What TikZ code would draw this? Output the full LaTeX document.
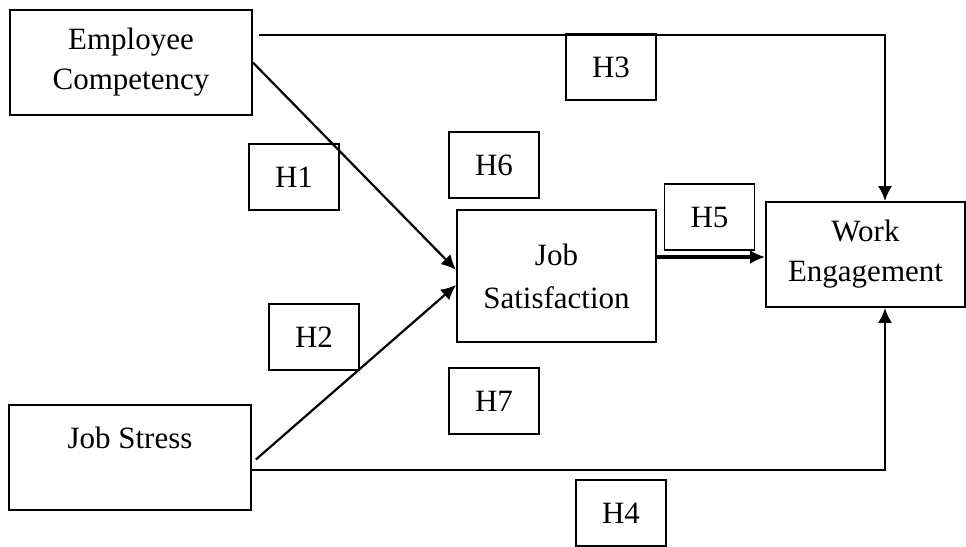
\documentclass[tikz,border=0pt]{standalone}
\usepackage{fontspec}
\setmainfont{Liberation Serif}
\usepackage{tikz}
\usetikzlibrary{calc, arrows.meta, positioning}

\begin{document}
\begin{tikzpicture}[x=0.5pt, y=-0.5pt, >={Latex[length=7.5pt, width=7pt]},
    every node/.style={font=\fontsize{15.5}{20}\selectfont, align=center, inner sep=0pt},
    varbox/.style={draw, line width=0.9pt, minimum width=121pt, minimum height=52.5pt},
    hypbox/.style={draw, line width=0.9pt, minimum width=45pt, minimum height=33pt},
    arr/.style={->, line width=1.1pt}]
    \useasboundingbox (0,0) rectangle (966,547);

    % 1. Các biến
    \node[varbox] (ec) at (131,62.5) {Employee\\Competency};
    \node[varbox] (jst) at (130,457.5) {Job Stress\\\mbox{}};
    \node[varbox, minimum width=99.5pt, minimum height=66pt] (jsat) at (556.5,276) {Job\\[1.5pt]Satisfaction};
    \node[varbox, minimum width=99.5pt] (we) at (865.5,254.5) {Work\\Engagement};

    % 2. Các giả thuyết
    \node[hypbox] (h1) at (294,177) {H1};
    \node[hypbox] (h2) at (314,337) {H2};
    \node[hypbox] (h3) at (611,67) {H3};
    \node[hypbox] (h4) at (621,513) {H4};
    \node[hypbox] (h5) at (709.5,217) {H5};
    \node[hypbox] (h6) at (494,165) {H6};
    \node[hypbox] (h7) at (494,401) {H7};

    % 3. Các mũi tên
    \draw[arr] (ec.east) -- ($(jsat.west)+(0,-6)$);
    \draw[arr] ($(jst.east)+(4,2)$) -- ($(jsat.west)+(0,9)$);
    \draw[arr] ($(ec.north east)+(6,26)$) -| ($(we.north)+(19.5,0)$);
    \draw[arr] ($(jst.east)+(0,12.5)$) -| ($(we.south)+(19.5,0)$);
    \draw[arr, line width=1.6pt] ($(jsat.east)+(0,-19)$) -- ($(we.west)+(0,2.5)$);

\end{tikzpicture}
\end{document}
